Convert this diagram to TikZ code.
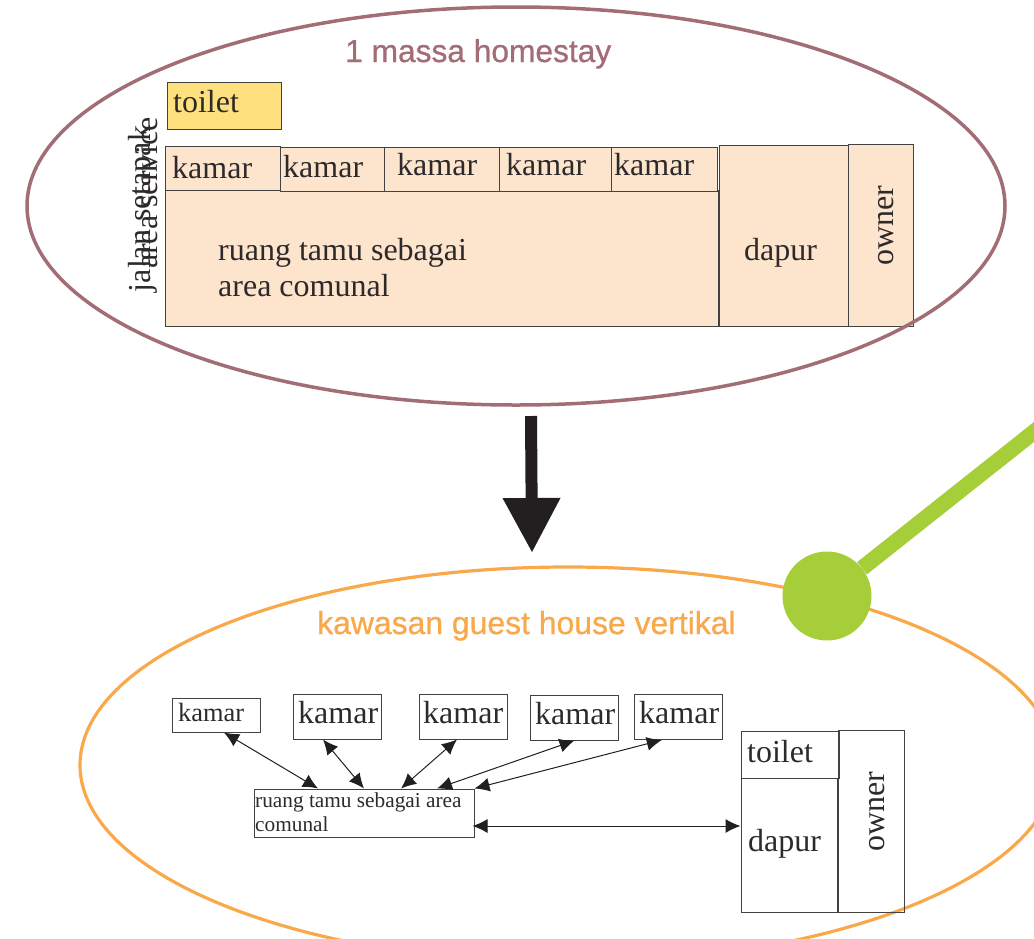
\documentclass[tikz,border=0pt]{standalone}
\usepackage{fontspec}
\setmainfont{Liberation Serif}
\newfontfamily\judulfont[FakeBold=0.8]{Liberation Sans}
\usetikzlibrary{positioning, shapes, arrows.meta, calc}
\definecolor{krem}{HTML}{FDE4CD}
\definecolor{kuning}{HTML}{FEE17E}
\definecolor{ungu}{HTML}{A26D75}
\definecolor{jingga}{HTML}{F9A84A}
\definecolor{hijau}{HTML}{A6CE39}
\definecolor{tinta}{HTML}{231F20}
\tikzset{
  kotak/.style={draw=tinta!85, line width=1pt, inner sep=0pt},
  teks/.style={text=tinta!95, inner sep=0pt, anchor=base west, font=\fontsize{#1}{#1}\selectfont},
  tegak/.style={text=tinta!95, inner sep=0pt, anchor=base, rotate=90, font=\fontsize{32}{32}\selectfont},
  judul/.style={inner sep=0pt, anchor=base west, font=\judulfont\fontsize{#1}{32}\selectfont},
  panah/.style={line width=1pt, tinta, {Latex[length=15pt,width=14pt]}-{Latex[length=15pt,width=14pt]}}
}
\begin{document}
\begin{tikzpicture}[x=1pt,y=-1pt]
  \useasboundingbox (0,0) rectangle (1034,938);

  % Nodes
  \node[kotak, fill=kuning, minimum width=114pt, minimum height=47pt] (toiletA) at (224,105.5) {};
  \node[teks=32] (labelToiletA) at (173,112) {toilet};
  \node[kotak, fill=krem, minimum width=553pt, minimum height=136pt] (ruangA) at (441.5,258) {};
  \foreach \i/\x/\y/\w/\tx/\by in {1/222.5/168/115/172/178, 2/332/169/104/283/177, 3/441.5/169/115/397/175, 4/555/169/112/506/175, 5/664/169/106/614/175}
  {
    \node[kotak, fill=krem, minimum width=\w pt, minimum height=44pt] (kamarA\i) at (\x,\y) {};
    \node[teks=32] (labelKamarA\i) at (\tx,\by) {kamar};
  }
  \node[kotak, fill=krem, minimum width=129pt, minimum height=181pt] (dapurA) at (783.5,235.5) {};
  \node[kotak, fill=krem, minimum width=65pt, minimum height=182pt] (ownerA) at (880.5,235) {};
  \node[teks=32, align=left] (labelRuangA) at (218,296) {ruang tamu sebagai\\[4pt]area comunal};
  \node[teks=32] (labelDapurA) at (744,260) {dapur};
  \node[tegak] (labelOwnerA) at (893,226) {owner};
  \node[tegak] (jalan) at (150,209) {jalan setapak};
  \node[tegak] (service) at (157,193) {area service};
  \node[draw=ungu, line width=3.5pt, ellipse, inner sep=0pt, minimum width=978pt, minimum height=398pt] (massa) at (516,206) {};
  \node[judul=31.7, text=ungu] (judulA) at (345,62) {1 massa homestay};

  \node[draw=jingga, line width=3.2pt, ellipse, inner sep=0pt, minimum width=976pt, minimum height=396pt] (kawasan) at (568,765) {};
  \node[judul=31.9, text=jingga] (judulB) at (317,634) {kawasan guest house vertikal};
  \node[circle, fill=hijau, inner sep=0pt, minimum size=89pt] (bulat) at (827,596) {};
  \coordinate (ujungHijau) at (1044,424);
  \coordinate (atasPanah) at (531,416);
  \coordinate (bawahPanah) at (532,552);

  \node[kotak, minimum width=88pt, minimum height=34pt] (kamarB1) at (216,715) {};
  \node[teks=26.4] (labelKamarB1) at (178,721) {kamar};
  \foreach \i/\x/\y/\tx/\by in {2/337/716.5/298/723, 3/463/716.5/423/723, 4/574.5/717.5/535/724, 5/678.75/717/639/723}
  {
    \node[kotak, minimum width=88pt, minimum height=45pt] (kamarB\i) at (\x,\y) {};
    \node[teks=32] (labelKamarB\i) at (\tx,\by) {kamar};
  }
  \node[kotak, minimum width=220pt, minimum height=48pt] (ruangB) at (364,813) {};
  \node[teks=21.3, align=left] (labelRuangB) at (255,831) {ruang tamu sebagai area\\[2.7pt]comunal};
  \node[kotak, minimum width=98pt, minimum height=47pt] (toiletB) at (790.5,754.5) {};
  \node[teks=32] (labelToiletB) at (747,762) {toilet};
  \node[kotak, minimum width=96pt, minimum height=134pt] (dapurB) at (789,845) {};
  \node[teks=32] (labelDapurB) at (748,851) {dapur};
  \node[kotak, minimum width=66pt, minimum height=182pt] (ownerB) at (871,821) {};
  \node[tegak] (labelOwnerB) at (884,812) {owner};

  % Arrows
  \draw[line width=12pt, draw=tinta, -{Triangle[length=54pt,width=58pt,line width=0pt]}, fill=tinta] (atasPanah) -- (bawahPanah);
  \draw[line width=15.7pt, hijau] (bulat) -- (ujungHijau);
  \foreach \i/\a/\b in {1/8/-46, 2/-14/0, 3/-6/37, 4/0/73}
  \draw[panah] ([xshift=\a pt]kamarB\i.south) -- ([xshift=\b pt]ruangB.north);
  \draw[panah] ([xshift=-17pt]kamarB5.south) -- (ruangB.north east);
  \draw[panah] ([xshift=-2pt,yshift=-13pt]ruangB.east) -- ([yshift=19pt]dapurB.west);
\end{tikzpicture}
\end{document}
